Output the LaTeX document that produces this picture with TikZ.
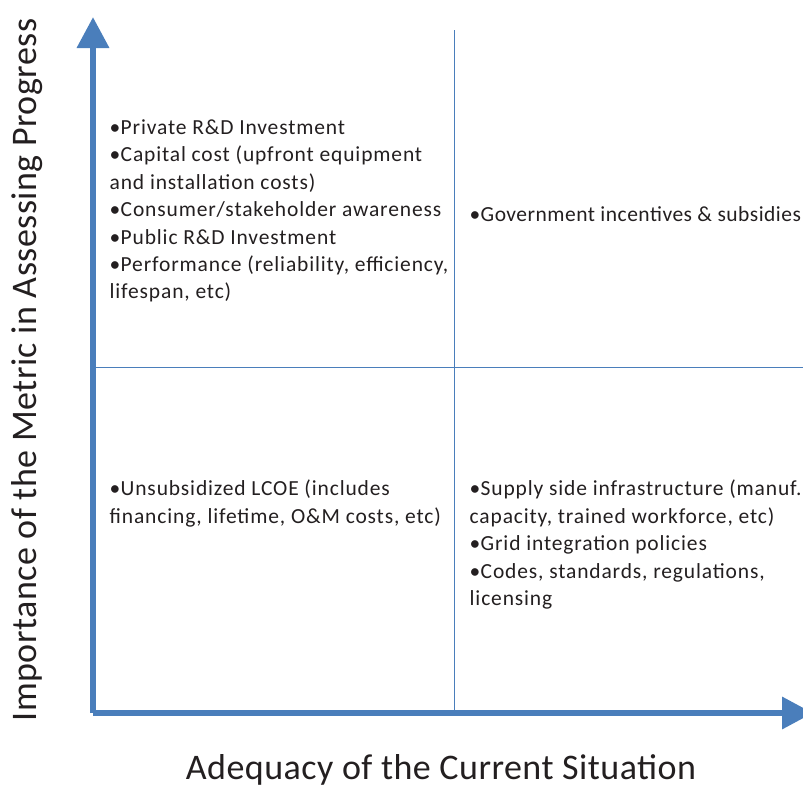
\documentclass[tikz,border=0pt]{standalone}
\usepackage{fontspec}
\setmainfont{Carlito}
\usetikzlibrary{arrows.meta}
\definecolor{axisblue}{RGB}{74,126,187}
\definecolor{txt}{RGB}{35,31,32}
\newcommand{\bul}{•\kern0.3pt}
\tikzset{
  axis/.style={draw=axisblue, line width=6.5pt, -{Triangle[length=31pt,width=31pt]}},
  grid/.style={draw=axisblue, line width=1pt},
  item/.style={anchor=north west, inner sep=0pt, align=left, text=txt, font=\fontsize{21.5}{27.4}\selectfont\addfontfeature{LetterSpace=4}},
  tightitem/.style={item, font=\fontsize{21.5}{27.4}\selectfont\addfontfeature{LetterSpace=2.3}},
  axlabel/.style={inner sep=0pt, anchor=base, text=txt, font=\fontsize{36}{40}\selectfont\addfontfeature{LetterSpace=1.3}}
}
\begin{document}
\begin{tikzpicture}[x=1pt,y=-1pt]
\useasboundingbox (0,0) rectangle (803,787);
\begin{scope}
\clip (0,0) rectangle (803,787);
\coordinate (o) at (93,713);
\coordinate (ytop) at (93,17);
\coordinate (xend) at (813,713);
\coordinate (vt) at (454,30);
\coordinate (vb) at (454,713);
\coordinate (hl) at (93,367);
\coordinate (hr) at (803,367);
\draw[grid] (vt) -- (vb);
\draw[grid] (hl) -- (hr);
\draw[axis] (o) -- (ytop);
\draw[axis] (o) -- (xend);
\end{scope}
\node[item] (q1) at (109.5,119.5) {\bul Private R\&D Investment\\
\bul Capital cost (upfront equipment\\
and installation costs)\\
\bul Consumer/stakeholder awareness\\
\bul Public R\&D Investment\\
\bul Performance (reliability, efficiency,\\
lifespan, etc)};
\node[tightitem] (q2) at (469.5,206) {\bul Government incentives \& subsidies};
\node[item] (q3) at (109.5,480) {\bul Unsubsidized LCOE (includes\\
financing, lifetime, O\&M costs, etc)};
\node[item] (q4) at (469.5,480) {\bul Supply side infrastructure (manuf.\\
capacity, trained workforce, etc)\\
\bul Grid integration policies\\
\bul Codes, standards, regulations,\\
licensing};
\node[axlabel] (xl) at (441,779.5) {Adequacy of the Current Situation};
\node[axlabel, rotate=90] (yl) at (36,370) {Importance of the Metric in Assessing Progress};
\end{tikzpicture}
\end{document}
